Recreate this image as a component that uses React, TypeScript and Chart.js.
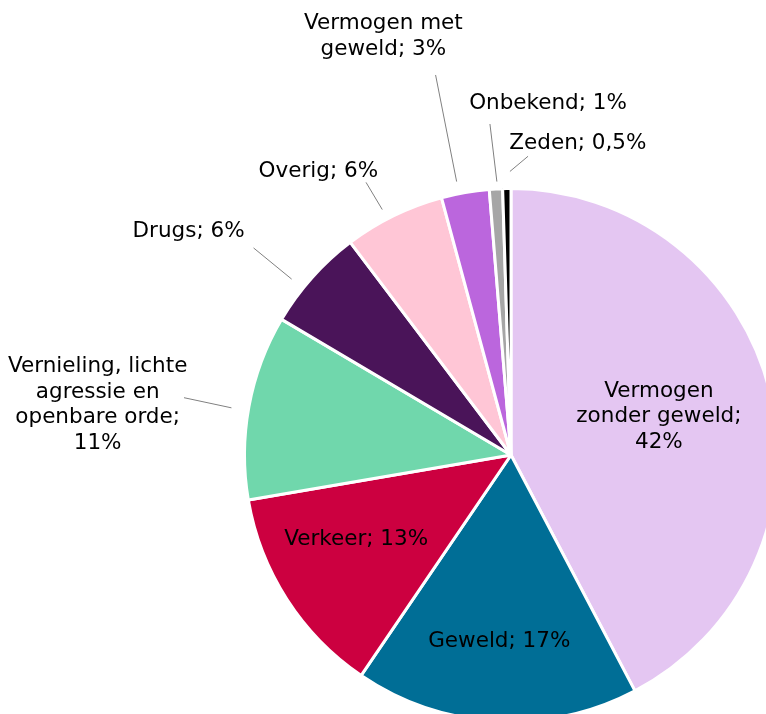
import React, { useEffect, useRef } from "react";
import { Chart, registerables } from "chart.js";

Chart.register(...registerables);

// ---- data ----
const CATEGORIES = [
  "Vermogen zonder geweld",
  "Geweld",
  "Verkeer",
  "Vernieling, lichte agressie en openbare orde",
  "Drugs",
  "Overig",
  "Vermogen met geweld",
  "Onbekend",
  "Zeden",
];
const VALUES = [42.3, 17.2, 12.8, 11.2, 6.2, 6.1, 2.9, 0.8, 0.5];
const COLORS = [
  "#E4C6F2",
  "#006E96",
  "#CC0040",
  "#70D7AC",
  "#4A1459",
  "#FFC6D6",
  "#BB66DD",
  "#A6A6A6",
  "#000000",
];

// ---- label layout (relative to pie centre, in units of the radius) ----
type LabelLayout = {
  text: [number, number];
  wrap: number;
  line?: [number, number, number, number];
};
const LABEL_LAYOUT: LabelLayout[] = [
  { text: [0.555, -0.143], wrap: 175 },
  { text: [-0.044, 0.698], wrap: 400 },
  { text: [-0.581, 0.317], wrap: 400 },
  { text: [-1.551, -0.187], wrap: 190, line: [-1.227, -0.215, -1.049, -0.177] },
  { text: [-1.21, -0.838], wrap: 400, line: [-0.966, -0.777, -0.823, -0.66] },
  { text: [-0.723, -1.064], wrap: 400, line: [-0.544, -1.023, -0.483, -0.921] },
  { text: [-0.479, -1.57], wrap: 175, line: [-0.283, -1.426, -0.204, -1.026] },
  { text: [0.139, -1.321], wrap: 400, line: [-0.079, -1.242, -0.053, -1.026] },
  { text: [0.251, -1.17], wrap: 400, line: [0.064, -1.121, -0.004, -1.064] },
];

const FONT = "21.5px 'DejaVu Sans', Verdana, sans-serif";
const LINE_HEIGHT = 25.5;

function fmt(v: number): string {
  if (v < 0.75) return v.toFixed(1).replace(".", ",") + "%";
  return Math.round(v) + "%";
}

function wrapText(ctx: CanvasRenderingContext2D, text: string, maxW: number): string[] {
  const words = text.split(" ");
  const lines: string[] = [];
  let cur = "";
  for (const w of words) {
    const test = cur ? cur + " " + w : w;
    if (cur && ctx.measureText(test).width > maxW) {
      lines.push(cur);
      cur = w;
    } else {
      cur = test;
    }
  }
  if (cur) lines.push(cur);
  return lines;
}

const labelPlugin = {
  id: "pieLabels",
  afterDatasetsDraw(chart: any) {
    const ctx: CanvasRenderingContext2D = chart.ctx;
    const meta = chart.getDatasetMeta(0);
    const arc0 = meta.data[0];
    if (!arc0) return;
    const cx = arc0.x;
    const cy = arc0.y;
    const r = arc0.outerRadius;
    ctx.save();
    ctx.font = FONT;
    ctx.textAlign = "center";
    ctx.textBaseline = "middle";
    CATEGORIES.forEach((cat, i) => {
      const lay = LABEL_LAYOUT[i];
      if (lay.line) {
        ctx.strokeStyle = "#808080";
        ctx.lineWidth = 1;
        ctx.beginPath();
        ctx.moveTo(cx + lay.line[0] * r, cy + lay.line[1] * r);
        ctx.lineTo(cx + lay.line[2] * r, cy + lay.line[3] * r);
        ctx.stroke();
      }
      const lines = wrapText(ctx, cat + "; " + fmt(VALUES[i]), lay.wrap);
      const tx = cx + lay.text[0] * r;
      const ty = cy + lay.text[1] * r;
      ctx.fillStyle = "#000000";
      lines.forEach((ln, k) => {
        ctx.fillText(ln, tx, ty + (k - (lines.length - 1) / 2) * LINE_HEIGHT);
      });
    });
    ctx.restore();
  },
};

export default function App() {
  const ref = useRef<HTMLCanvasElement | null>(null);
  useEffect(() => {
    if (!ref.current) return;
    const chart = new Chart(ref.current, {
      type: "pie",
      data: {
        labels: CATEGORIES,
        datasets: [
          {
            data: VALUES,
            backgroundColor: COLORS,
            borderColor: "#FFFFFF",
            borderWidth: 3,
          },
        ],
      },
      options: {
        responsive: false,
        animation: false,
        layout: { padding: { left: 243, top: 187, right: 21, bottom: 37 } },
        plugins: {
          legend: { display: false },
          tooltip: { enabled: false },
        },
      },
      plugins: [labelPlugin],
    });
    return () => chart.destroy();
  }, []);
  return (
    <div
      style={{
        position: "fixed",
        left: 0,
        top: 0,
        width: 766,
        height: 714,
        overflow: "hidden",
        background: "#FFFFFF",
      }}
    >
      <canvas ref={ref} width={800} height={760} style={{ width: 800, height: 760, display: "block" }} />
    </div>
  );
}
